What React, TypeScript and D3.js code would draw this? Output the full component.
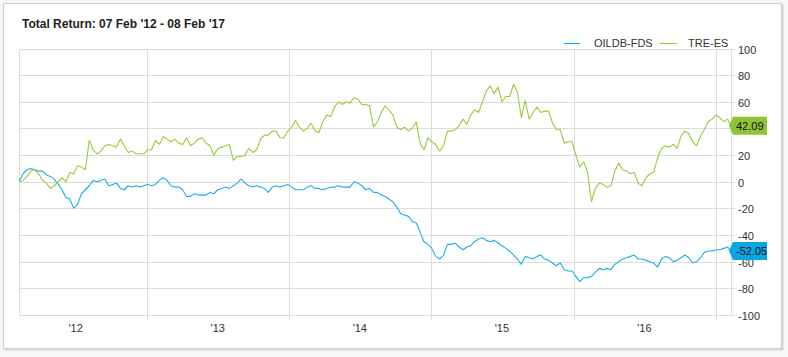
import React, { useEffect } from "react";
import * as d3 from "d3";

const seriesNames = ["OILDB-FDS", "TRE-ES"];
const seriesColors = ["#1aaee8", "#9bca3e"];
const labelColors = ["#0aa5e4", "#8fc435"];

const startDate = new Date(2012, 1, 7);
const endDate = new Date(2017, 1, 8);
const stepDays = 10;

// OILDB-FDS total return (%) every 10 days from 07 Feb 2012, last value at 08 Feb 2017
const oildbValues = [
  0, 6, 9, 10, 9, 8, 8, 5, 4, 2,
  -2, -6, -12, -13, -20, -17, -9, -6, -3, 1,
  0, 1, 2, -3, -2, -1, -5, -6, -3, -4, -3,
  -4, -3, -2, -3, -2, 1, 3, 1, -3, -4,
  -4, -6, -11, -11, -9, -10, -10, -10, -8, -9,
  -6, -5, -4, -5, -3, -1, 2, -1, -3, -4, -3,
  -4, -5, -8, -4, -3, -4, -3, -2, -4, -6,
  -6, -6, -4, -3, -5, -5, -6, -5, -4, -4,
  -3, -4, -4, -4, 0, -1, -3, -6, -5, -8, -8,
  -10, -11, -13, -15, -19, -24, -25, -26, -30, -31,
  -38, -45, -47, -50, -56, -58, -55, -47, -47, -46,
  -49, -51, -49, -48, -45, -43, -42, -44, -45, -44,
  -46, -48, -50, -52, -55, -58, -62, -56, -57, -58,
  -56, -55, -58, -59, -61, -63, -61, -66, -67, -67,
  -71, -75, -72, -72, -71, -68, -65, -66, -65, -66, -62,
  -60, -58, -57, -56, -55, -58, -58, -59, -60, -61,
  -64, -58, -56, -57, -60, -59, -57, -55, -57, -61,
  -60, -57, -53, -52, -52, -51, -51, -50, -49,
  -52.05,
];

// TRE-ES total return (%)
const treValues = [
  0, 1, 4, 8, 9, 6, 1, -1, -5, -3,
  0, 3, 0, 7, 6, 12, 11, 9, 31, 24,
  21, 23, 27, 28, 27, 26, 32, 27, 22, 23, 21,
  21, 21, 24, 24, 31, 28, 34, 32, 30, 32,
  29, 28, 33, 27, 29, 32, 33, 29, 27, 20,
  25, 26, 27, 28, 16, 19, 19, 20, 25, 22, 24,
  32, 35, 35, 38, 38, 33, 33, 38, 41, 46,
  41, 38, 40, 44, 38, 37, 45, 50, 49, 56,
  60, 58, 60, 59, 63, 62, 58, 58, 57, 41,
  45, 52, 57, 54, 50, 41, 39, 41, 38, 40,
  45, 29, 24, 33, 30, 28, 23, 27, 38, 38,
  39, 42, 47, 43, 50, 54, 52, 60, 68, 72, 66,
  71, 60, 64, 64, 73, 67, 48, 61, 47, 52,
  56, 52, 53, 53, 44, 39, 39, 29, 30, 30,
  20, 11, 15, 7, -15, -5, -1, -2, -4, -3, 8,
  14, 9, 8, 6, 7, -1, -3, 3, 6, 7,
  18, 25, 27, 26, 28, 25, 34, 38, 36, 30,
  27, 34, 39, 45, 47, 50, 48, 45, 47,
  42.09,
];

const yTicks = [-100, -80, -60, -40, -20, 0, 20, 40, 60, 80, 100];
const yearLines = [2013, 2014, 2015, 2016, 2017];
const xLabelYears = [2012, 2013, 2014, 2015, 2016];
const titleText = "Total Return: 07 Feb '12 - 08 Feb '17";

const W = 788;
const H = 357;
const font = "Arial, 'Liberation Sans', Helvetica, sans-serif";

export default function App() {
  useEffect(() => {
    document.body.style.margin = "0";
  }, []);

  const n = oildbValues.length;
  const dates = d3
    .range(n - 1)
    .map((k) => d3.timeDay.offset(startDate, stepDays * k))
    .concat([endDate]);

  const x = d3.scaleTime().domain([startDate, endDate]).range([19.2, 730.8]);
  const y = d3.scaleLinear().domain([-100, 100]).range([315, 48.5]);

  const line = d3
    .line<number>()
    .x((_, i) => x(dates[i]))
    .y((v) => y(v));

  const series = [oildbValues, treValues];
  const lastYs = series.map((vals) => y(vals[vals.length - 1]));
  const left = 19.5;
  const right = 731.5;
  const top = Math.round(y(100)) + 0.5;
  const bottom = Math.round(y(-100)) + 0.5;
  const grid = "#dcdcdc";

  const fmtYear = d3.timeFormat("'%y");

  return (
    <svg width={W} height={H} style={{ display: "block" }} fontFamily={font}>
      <rect x={0} y={0} width={W} height={H} fill="#f6f7f7" />
      <rect x={4.5} y={4.5} width={779} height={346} fill="#d6d6d6" />
      <rect x={3.5} y={3.5} width={778} height={345} fill="#ffffff" stroke="#cfcfcf" />

      <text x={22} y={28} fontSize={12} fontWeight="bold" fill="#222">
        {titleText}
      </text>

      {/* horizontal grid */}
      {yTicks.map((t) => {
        const yy = Math.round(y(t)) + 0.5;
        const hidden = lastYs.some((ly) => Math.abs(ly - yy) < 6);
        return (
          <g key={t}>
            <line x1={left} x2={735} y1={yy} y2={yy} stroke={grid} />
            {!hidden && (
              <text x={738} y={yy + 4} fontSize={11} fill="#333">
                {t}
              </text>
            )}
          </g>
        );
      })}

      {/* vertical grid */}
      <line x1={left} x2={left} y1={top} y2={bottom} stroke={grid} />
      <line x1={right} x2={right} y1={top} y2={bottom} stroke={grid} />
      {yearLines.map((yr) => {
        const xx = Math.round(x(new Date(yr, 0, 1))) + 0.5;
        return <line key={yr} x1={xx} x2={xx} y1={top} y2={320} stroke={grid} />;
      })}
      {xLabelYears.map((yr) => {
        const d = new Date(yr, 6, 1);
        return (
          <text key={yr} x={x(d)} y={332} fontSize={11} fill="#333" textAnchor="middle">
            {fmtYear(d)}
          </text>
        );
      })}

      {/* series */}
      {series.map((vals, i) => (
        <path
          key={i}
          d={line(vals) || ""}
          fill="none"
          stroke={seriesColors[i]}
          strokeWidth={1.1}
          strokeLinejoin="round"
        />
      ))}

      {/* legend */}
      <line x1={564} x2={580} y1={43.5} y2={43.5} stroke={seriesColors[0]} strokeWidth={1.2} />
      <text x={594} y={47} fontSize={11} fill="#333">
        {seriesNames[0]}
      </text>
      <line x1={660} x2={677} y1={43.5} y2={43.5} stroke={seriesColors[1]} strokeWidth={1.2} />
      <text x={688} y={47} fontSize={11} fill="#333">
        {seriesNames[1]}
      </text>

      {/* last value labels */}
      {series.map((vals, i) => {
        const v = vals[vals.length - 1];
        const yy = y(v);
        const p = `M729,${yy} L733,${yy - 9} L767,${yy - 9} L767,${yy + 9} L733,${yy + 9} Z`;
        return (
          <g key={i}>
            <path d={p} fill={labelColors[i]} />
            <text x={736} y={yy + 4} fontSize={11} fill="#111">
              {v.toFixed(2)}
            </text>
          </g>
        );
      })}
    </svg>
  );
}
